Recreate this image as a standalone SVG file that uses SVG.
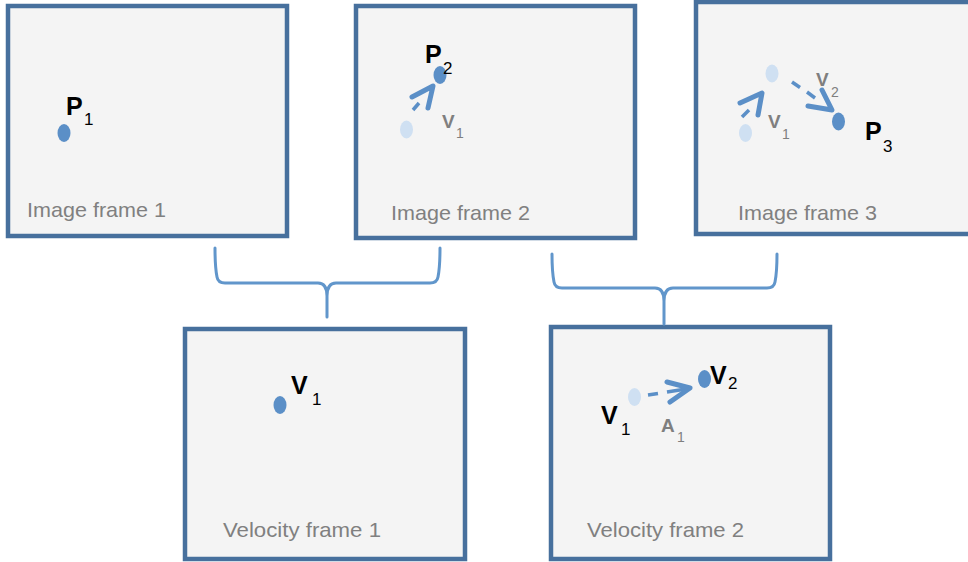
<svg xmlns="http://www.w3.org/2000/svg" width="968" height="562" viewBox="0 0 968 562">
<defs>
<style>
.frame{fill:#f4f4f4;stroke:#47709d;stroke-width:4.5}
.dot{fill:#5b8fc7}
.ghost{fill:#cfe0f2}
.brace{fill:none;stroke:#6196cb;stroke-width:3;stroke-linecap:round;stroke-linejoin:round}
.dash{fill:none;stroke:#5b8fc7;stroke-width:3.5;stroke-linecap:butt}
.head{fill:none;stroke:#5b8fc7;stroke-width:5;stroke-linecap:round;stroke-linejoin:round}
.cap{font-family:"Liberation Sans",Arial,sans-serif;font-size:21px;fill:#808080}
.big{font-family:"Liberation Sans",Arial,sans-serif;font-weight:bold;font-size:25px;fill:#000}
.sub{font-family:"Liberation Sans",Arial,sans-serif;font-size:17px;fill:#000}
.gbig{font-family:"Liberation Sans",Arial,sans-serif;font-weight:bold;font-size:19px;fill:#7f7f7f}
.gsub{font-family:"Liberation Sans",Arial,sans-serif;font-size:14px;fill:#7f7f7f}
</style>
</defs>
<rect width="968" height="562" fill="#ffffff"/>

<g id="image-frame-1">
<rect class="frame" x="8" y="6" width="279" height="230"/>
<ellipse class="dot" cx="64" cy="133" rx="6.5" ry="9"/>
<text class="big" x="66" y="115">P</text><text class="sub" x="84" y="125">1</text>
<text class="cap" x="27" y="217" textLength="139" lengthAdjust="spacingAndGlyphs">Image frame 1</text>
</g>

<g id="image-frame-2">
<rect class="frame" x="356" y="6" width="279" height="232"/>
<ellipse class="ghost" cx="406.5" cy="129.5" rx="6.5" ry="9"/>
<ellipse class="dot" cx="440" cy="75" rx="6.5" ry="9"/>
<line class="dash" x1="413" y1="110" x2="419" y2="103"/>
<polyline class="head" points="412,97 433,86 428,108"/>
<text class="big" x="425" y="63">P</text><text class="sub" x="443" y="74">2</text>
<text class="gbig" x="442" y="128">V</text><text class="gsub" x="456" y="138">1</text>
<text class="cap" x="391" y="220" textLength="139" lengthAdjust="spacingAndGlyphs">Image frame 2</text>
</g>

<g id="image-frame-3">
<rect class="frame" x="696" y="2" width="280" height="232"/>
<ellipse class="ghost" cx="745.5" cy="133" rx="6.5" ry="9"/>
<ellipse class="ghost" cx="772" cy="73.5" rx="6.5" ry="9"/>
<ellipse class="dot" cx="838.5" cy="121.5" rx="6.5" ry="9"/>
<line class="dash" x1="742" y1="117" x2="749" y2="110"/>
<polyline class="head" points="740,103 762,93 758,115"/>
<line class="dash" x1="792" y1="82" x2="800" y2="87.5"/>
<line class="dash" x1="807" y1="92" x2="815" y2="98"/>
<polyline class="head" points="808,106 832,110 822,90"/>
<text class="gbig" x="768" y="128">V</text><text class="gsub" x="782" y="139">1</text>
<text class="gbig" x="816" y="86">V</text><text class="gsub" x="831" y="97">2</text>
<text class="big" x="865" y="140">P</text><text class="sub" x="883" y="152">3</text>
<text class="cap" x="738" y="220" textLength="139" lengthAdjust="spacingAndGlyphs">Image frame 3</text>
</g>

<g id="velocity-frame-1">
<rect class="frame" x="185" y="329" width="280" height="230"/>
<ellipse class="dot" cx="280" cy="405" rx="6.5" ry="9"/>
<text class="big" x="291" y="394">V</text><text class="sub" x="312" y="405">1</text>
<text class="cap" x="223" y="537" textLength="158" lengthAdjust="spacingAndGlyphs">Velocity frame 1</text>
</g>

<g id="velocity-frame-2">
<rect class="frame" x="551" y="327" width="279" height="232"/>
<ellipse class="ghost" cx="634.5" cy="397" rx="6.5" ry="9"/>
<ellipse class="dot" cx="704.5" cy="379" rx="6.5" ry="9"/>
<line class="dash" x1="648" y1="395" x2="658" y2="393.5"/>
<line class="dash" x1="667" y1="392" x2="686" y2="389"/>
<polyline class="head" points="667,382 690,388 670,402"/>
<text class="big" x="710" y="384">V</text><text class="sub" x="728" y="389">2</text>
<text class="big" x="601" y="424">V</text><text class="sub" x="621" y="435">1</text>
<text class="gbig" x="661" y="432">A</text><text class="gsub" x="677" y="442">1</text>
<text class="cap" x="587" y="537" textLength="157" lengthAdjust="spacingAndGlyphs">Velocity frame 2</text>
</g>

<g id="connectors">
<path class="brace" d="M215,248 C215,262 216,272 217,277 Q218,283 225,283 L318,283 Q327,283 327,296 L327,317 M440,248 C440,262 439,272 438,277 Q437,283 430,283 L336,283 Q327,283 327,296"/>
<path class="brace" d="M552,254 C552,268 553,277 554,282 Q555,288 562,288 L655,288 Q664,288 664,301 L664,324 M777,254 C777,268 776,277 775,282 Q774,288 767,288 L673,288 Q664,288 664,301"/>
</g>
</svg>
